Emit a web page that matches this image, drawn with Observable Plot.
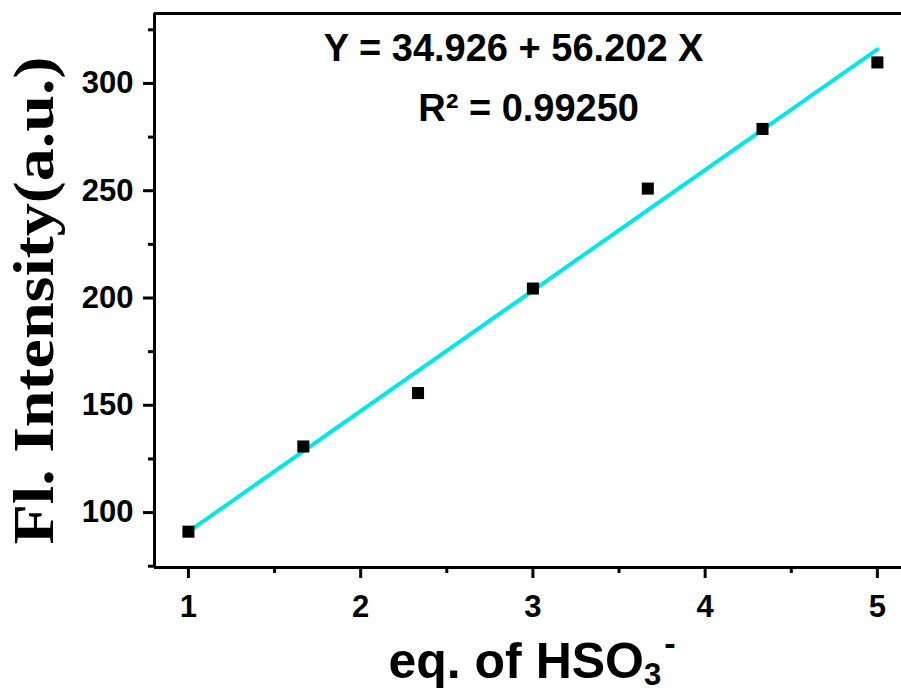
<!DOCTYPE html>
<html>
<head>
<meta charset="utf-8">
<script src="https://cdn.jsdelivr.net/npm/d3@7"></script>
<script src="https://cdn.jsdelivr.net/npm/@observablehq/plot@0.6"></script>
<style>
  html, body { margin: 0; padding: 0; background: white; }
</style>
</head>
<body>
<div id="chart"></div>
<script>
// ---- data ----
const eqHSO3 = [1, 1.667, 2.333, 3, 3.667, 4.333, 5];
const intensity = [91.1, 130.8, 155.7, 204.4, 251.0, 278.8, 309.8];
const fitX = [1, 5];
const fitY = [91.1, 315.9];
const xMajor = [1, 2, 3, 4, 5];
const xMinor = [1.5, 2.5, 3.5, 4.5];
const yMajor = [100, 150, 200, 250, 300];
const yMinor = [75, 125, 175, 225, 275, 325];
const eqLine = ["Y = 34.926 + 56.202 X"];
const r2Line = ["R\u00B2 = 0.99250"];
const yLabel = "Fl. Intensity(a.u.)";
const xLabel = "eq. of HSO3-";

const points = eqHSO3.map((x, i) => ({x, y: intensity[i]}));
const fit = fitX.map((x, i) => ({x, y: fitY[i]}));

const xDom = [0.803, 5.14];
const yDom = [74.4, 332.6];
const bold = "bold";

const chart = Plot.plot({
  width: 901,
  height: 691,
  marginLeft: 154,
  marginRight: 0,
  marginTop: 13,
  marginBottom: 124,
  style: {fontFamily: "'Liberation Sans', Arial, sans-serif", background: "white", color: "black"},
  x: {domain: xDom},
  y: {domain: yDom},
  marks: [
    Plot.axisX(xMajor, {tickSize: 11, tickPadding: 16, fontSize: 31, fontWeight: bold, strokeWidth: 3, label: null, tickFormat: d => String(d)}),
    Plot.axisX(xMinor, {tickSize: 6, strokeWidth: 3, label: null, tickFormat: () => ""}),
    Plot.axisY(yMajor, {tickSize: 11, tickPadding: 10, fontSize: 31, fontWeight: bold, strokeWidth: 3, label: null, tickFormat: d => String(d)}),
    Plot.axisY(yMinor, {tickSize: 6, strokeWidth: 3, label: null, tickFormat: () => ""}),
    Plot.ruleX([xDom[0]], {strokeWidth: 3}),
    Plot.ruleY(yDom, {strokeWidth: 3}),
    Plot.line(fit, {x: "x", y: "y", stroke: "#00e5e5", strokeWidth: 4}),
    Plot.dot(points, {x: "x", y: "y", symbol: "square", fill: "black", stroke: "none", r: 6.8}),
    Plot.text(eqLine, {x: () => 2.888, y: () => 316.0, text: d => d, fontSize: 38, fontWeight: bold, fill: "black"}),
    Plot.text(r2Line, {x: () => 2.975, y: () => 288.2, text: d => d, fontSize: 38, fontWeight: bold, fill: "black"}),
    Plot.text([yLabel], {frameAnchor: "left", textAnchor: "middle", lineAnchor: "middle", rotate: -90, dx: -119, dy: 10, fontSize: 56, fontWeight: bold, fontFamily: "'Liberation Serif', 'Times New Roman', serif", fill: "black"}),
    Plot.text([xLabel], {frameAnchor: "bottom", textAnchor: "middle", lineAnchor: "bottom", dx: 4, dy: 110, fontSize: 50, fontWeight: bold, fill: "black"})
  ]
});

// post-process text styling (subscript/superscript, label stretch)
const svg = d3.select(chart);
svg.selectAll("text").filter(function() { return this.textContent === yLabel; })
  .each(function() {
    const t = d3.select(this);
    const tr = t.attr("transform") || "";
    t.attr("transform", tr + " scale(1.18,1)");
  });
svg.selectAll("text").filter(function() { return this.textContent === xLabel; })
  .each(function() {
    const t = d3.select(this);
    t.text("eq. of HSO");
    t.append("tspan").attr("dy", 7).attr("font-size", 31).text("3");
    t.append("tspan").attr("dx", 3).attr("dy", -30).attr("font-size", 34).text("-");
  });

document.getElementById("chart").appendChild(chart);
</script>
</body>
</html>
